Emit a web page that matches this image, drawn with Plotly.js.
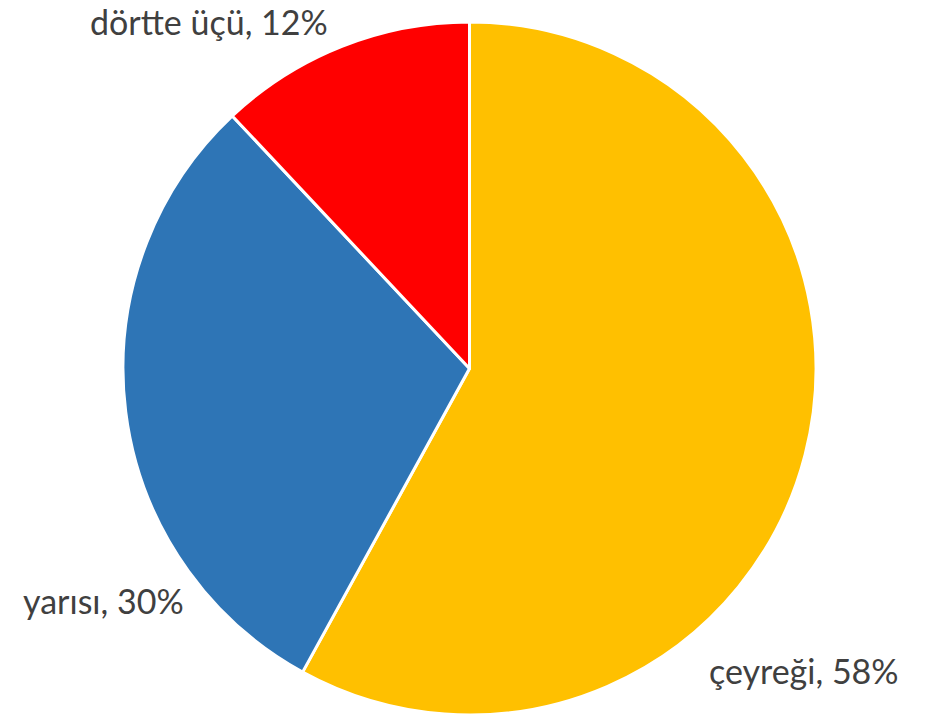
<!DOCTYPE html>
<html>
<head>
<meta charset="utf-8">
<script src="https://cdn.plot.ly/plotly-3.0.1.min.js"></script>
<style>html,body{margin:0;padding:0;background:#fff;}#chart{width:945px;height:715px;}</style>
</head>
<body>
<div id="chart"></div>
<script>
const categories = ["çeyreği", "yarısı", "dörtte üçü"];
const values = [58, 30, 12];
const colors = ["#FFC000", "#2E75B6", "#FF0000"];
// label anchor positions (paper coords)
const labelX = [804/945, 103/945, 209/945];
const labelY = [1 - 670/715, 1 - 600/715, 1];
const labelAnchor = ["middle", "middle", "top"];

const trace = {
  type: "pie",
  labels: categories,
  values: values,
  marker: {colors: colors, line: {color: "#ffffff", width: 3}},
  sort: false,
  direction: "clockwise",
  rotation: 0,
  textinfo: "none",
  hoverinfo: "label+percent",
  showlegend: false,
  domain: {x: [122/945, 817/945], y: [0, 1 - 22/715]}
};

const total = values.reduce((a, b) => a + b, 0);
const annotations = categories.map((c, i) => ({
  text: c + ", " + Math.round(values[i] / total * 100) + "%",
  x: labelX[i], y: labelY[i], xref: "paper", yref: "paper",
  xanchor: "center", yanchor: labelAnchor[i], showarrow: false,
  borderpad: 0,
  font: {family: "Lato, 'Noto Sans', sans-serif", size: 34, color: "#404040"}
}));

Plotly.newPlot("chart", [trace], {
  width: 945, height: 715,
  margin: {l: 0, r: 0, t: 0, b: 0},
  paper_bgcolor: "#ffffff",
  annotations: annotations
}, {displayModeBar: false});
</script>
</body>
</html>
